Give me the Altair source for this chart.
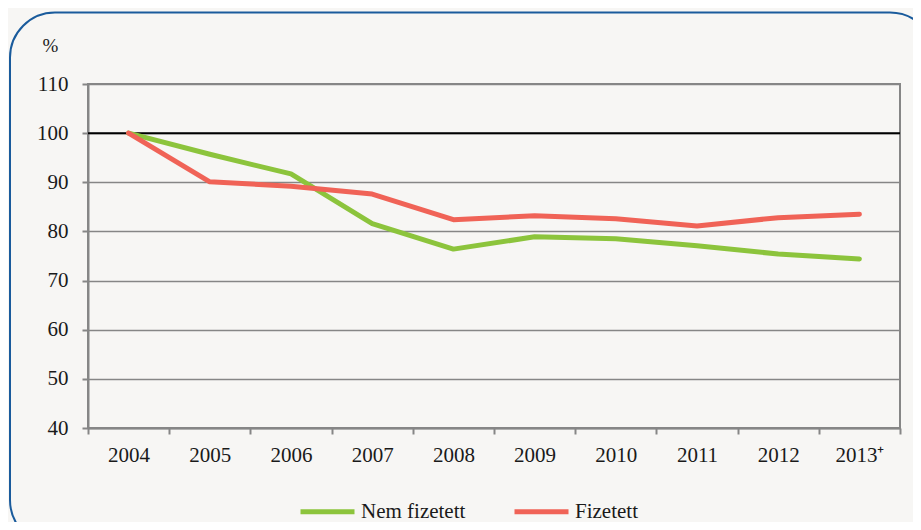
import altair as alt
import pandas as pd

years = ["2004", "2005", "2006", "2007", "2008", "2009", "2010", "2011", "2012", "2013⁺"]
nem_fizetett = [100, 95.7, 91.7, 81.6, 76.4, 78.9, 78.5, 77.1, 75.4, 74.4]
fizetett = [100, 90.1, 89.2, 87.6, 82.4, 83.2, 82.6, 81.1, 82.8, 83.5]
series = ["Nem fizetett", "Fizetett"]
colors = ["#8cc43c", "#f06357"]
y_ticks = [40, 50, 60, 70, 80, 90, 100, 110]
ref_value = [100]

rows = []
for s, vals in zip(series, [nem_fizetett, fizetett]):
    for yr, v in zip(years, vals):
        rows.append({"year": yr, "series": s, "value": v})
df = pd.DataFrame(rows)

FONT = "Liberation Serif"
TXT = "#1a1a1a"
GRAY = "#868686"
W, H = 812, 344

y_scale = alt.Scale(domain=[40, 110], nice=False, zero=False)

x_enc = alt.X(
    "year:O",
    sort=years,
    scale=alt.Scale(type="band", paddingInner=0, paddingOuter=0),
    bandPosition=0.5,
    axis=alt.Axis(
        title=None, labelAngle=0, tickBand="extent", grid=False,
        domainColor=GRAY, domainWidth=2, tickColor=GRAY, tickWidth=2, tickSize=6,
        labelPadding=10, labelFont=FONT, labelFontSize=21, labelColor=TXT,
    ),
)

y_enc = alt.Y(
    "value:Q",
    scale=y_scale,
    axis=alt.Axis(
        title="%", titleAngle=0, titleX=-38, titleY=-39, titleAlign="center",
        titleBaseline="middle", titleFont=FONT, titleFontSize=19,
        titleFontWeight="normal", titleColor=TXT,
        values=y_ticks, grid=True, gridColor=GRAY, gridWidth=1.3,
        domainColor=GRAY, domainWidth=2, tickColor=GRAY, tickWidth=2, tickSize=6,
        labelPadding=14, labelFont=FONT, labelFontSize=21, labelColor=TXT,
    ),
)

lines = alt.Chart(df).mark_line(strokeWidth=5, strokeCap="round", strokeJoin="round").encode(
    x=x_enc,
    y=y_enc,
    color=alt.Color(
        "series:N",
        sort=series,
        scale=alt.Scale(domain=series, range=colors),
        legend=alt.Legend(
            title=None, orient="none", legendX=210, legendY=398, direction="horizontal",
            symbolType="stroke", symbolSize=2916, symbolStrokeWidth=5,
            labelFont=FONT, labelFontSize=21, labelColor=TXT, labelLimit=300,
            columnPadding=38, labelOffset=4,
        ),
    ),
    detail="series:N",
)

rule = alt.Chart(pd.DataFrame({"value": ref_value})).mark_rule(color="black", strokeWidth=2).encode(
    y=y_enc,
    x=alt.value(0),
    x2=alt.value(W),
)

frame = alt.Chart(pd.DataFrame({"a": [0]})).mark_rect(
    fillOpacity=0, stroke="#1a5b9c", strokeWidth=2, cornerRadius=45
).encode(
    x=alt.value(-78), x2=alt.value(847), y=alt.value(-71.5), y2=alt.value(461)
)

chart = alt.layer(frame, rule, lines).properties(
    width=W, height=H,
    padding={"left": 80, "top": 76, "right": 13, "bottom": 94},
    autosize=alt.AutoSizeParams(type="none"),
    background="#f7f6f4",
).configure_view(stroke=GRAY, strokeWidth=2)

chart.save("out.html", embed_options={"renderer": "svg", "actions": False})
